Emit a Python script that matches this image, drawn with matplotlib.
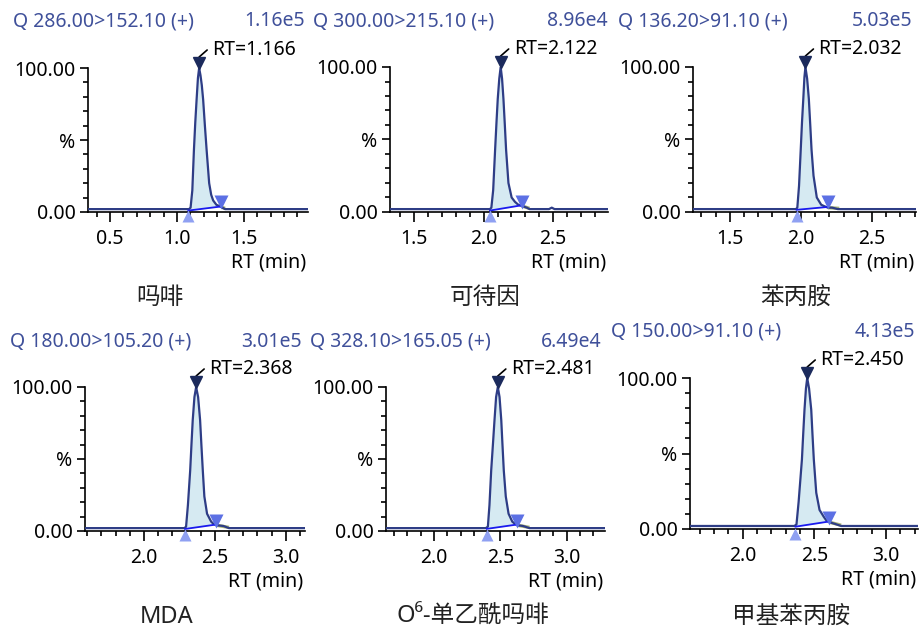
import matplotlib
matplotlib.use('Agg')
import matplotlib.pyplot as plt
from matplotlib.ticker import MultipleLocator, FixedLocator
from matplotlib.transforms import ScaledTranslation

plt.rcParams['font.family'] = ['Noto Sans', 'Noto Sans CJK SC', 'DejaVu Sans']

# ---------------- data ----------------
compounds = ['吗啡', '可待因', '苯丙胺', 'MDA', 'O⁶-单乙酰吗啡', '甲基苯丙胺']
transitions = ['Q 286.00>152.10 (+)', 'Q 300.00>215.10 (+)', 'Q 136.20>91.10 (+)',
               'Q 180.00>105.20 (+)', 'Q 328.10>165.05 (+)', 'Q 150.00>91.10 (+)']
max_intensity = ['1.16e5', '8.96e4', '5.03e5', '3.01e5', '6.49e4', '4.13e5']
rt_apex = [1.166, 2.122, 2.032, 2.368, 2.481, 2.450]
rt_start = [1.085, 2.045, 1.97, 2.29, 2.398, 2.368]
rt_end = [1.333, 2.275, 2.19, 2.51, 2.627, 2.605]
rt_tail = [1.36, 2.33, 2.27, 2.60, 2.72, 2.687]
x_min = [0.335, 1.325, 1.241, 1.584, 1.638, 1.632]
x_max = [1.98, 2.895, 2.81, 3.136, 3.289, 3.223]

trace1_rt = [0.335, 1.09, 1.102, 1.115, 1.127, 1.137, 1.147, 1.157, 1.166, 1.176, 1.186, 1.196,
             1.209, 1.222, 1.241, 1.256, 1.271, 1.295, 1.321, 1.34, 1.36, 1.98]
trace1_pct = [2, 2, 3, 15, 43, 62, 78, 93, 100, 95, 88, 78, 60, 43, 20, 12, 8, 5, 4, 3, 2, 2]
trace2_rt = [1.325, 2.045, 2.055, 2.068, 2.082, 2.092, 2.101, 2.112, 2.122, 2.132, 2.142, 2.152,
             2.161, 2.178, 2.201, 2.225, 2.249, 2.28, 2.31, 2.33, 2.47, 2.49, 2.51, 2.895]
trace2_pct = [2, 2, 3, 15, 43, 62, 78, 92, 100, 92, 78, 60, 43, 20, 10, 7, 5, 4, 3, 2, 2, 3, 2, 2]
trace3_rt = [1.241, 1.965, 1.975, 1.987, 1.999, 2.008, 2.017, 2.025, 2.032, 2.044, 2.056, 2.066,
             2.075, 2.089, 2.112, 2.143, 2.165, 2.19, 2.22, 2.26, 2.81]
trace3_pct = [2, 2, 3, 18, 43, 62, 78, 93, 100, 92, 78, 60, 43, 25, 10, 5, 4, 3, 3, 2, 2]
trace4_rt = [1.584, 2.285, 2.297, 2.31, 2.326, 2.335, 2.344, 2.356, 2.368, 2.382, 2.396, 2.405,
             2.415, 2.426, 2.445, 2.474, 2.49, 2.51, 2.56, 2.60, 3.136]
trace4_pct = [2, 2, 3, 18, 42, 60, 77, 93, 100, 93, 77, 60, 42, 24, 12, 6.5, 5, 4, 3.5, 2, 2]
trace5_rt = [1.638, 2.39, 2.406, 2.418, 2.431, 2.444, 2.456, 2.468, 2.481, 2.494, 2.507, 2.516,
             2.526, 2.541, 2.562, 2.59, 2.61, 2.627, 2.67, 2.72, 3.289]
trace5_pct = [2, 2, 3, 18, 42, 60, 77, 93, 100, 93, 77, 60, 42, 24, 12, 6.5, 5, 4, 3.5, 2, 2]
trace6_rt = [1.632, 2.36, 2.375, 2.39, 2.413, 2.422, 2.431, 2.441, 2.45, 2.463, 2.478, 2.487,
             2.496, 2.513, 2.536, 2.566, 2.585, 2.605, 2.64, 2.687, 3.223]
trace6_pct = [2, 2, 3, 18, 46, 63, 79, 93, 100, 93, 79, 62, 46, 24, 12.6, 8, 5.5, 4.5, 3.5, 2, 2]
traces_rt = [trace1_rt, trace2_rt, trace3_rt, trace4_rt, trace5_rt, trace6_rt]
traces_pct = [trace1_pct, trace2_pct, trace3_pct, trace4_pct, trace5_pct, trace6_pct]

# ---------------- layout (pixels) ----------------
W, H, DPI = 919, 628, 100
boxes = [(88, 68, 308, 212), (390, 67, 608, 212), (693, 67, 916, 212),
         (85, 387, 305, 531), (386, 387, 605, 531), (690, 378, 918, 529)]
title_pos = [(13, 305, 21), (313, 608, 21), (618, 912, 21),
             (10, 302, 342), (310, 602, 342), (611, 915, 332)]
name_pos = [(160, 298), (485, 298), (796, 298), (167, 617), (473, 617), (791, 617)]

NAVY = '#2e3d86'
APEX = '#1b2a5c'
FILL = '#d6eaf2'
BASE = '#1a1aee'
START_C = '#8fa0f2'
END_C = '#5c70e4'
OLIVE = '#aab476'
TBLUE = '#3f509a'
FS = 14

fig = plt.figure(figsize=(W / DPI, H / DPI), dpi=DPI)
fig.patch.set_facecolor('white')


def interp(x, xs, ys):
    for k in range(len(xs) - 1):
        if xs[k] <= x <= xs[k + 1]:
            t = (x - xs[k]) / (xs[k + 1] - xs[k])
            return ys[k] + t * (ys[k + 1] - ys[k])
    return ys[-1]


for i in range(6):
    l, t, r, b = boxes[i]
    ax = fig.add_axes([l / W, 1 - b / H, (r - l) / W, (b - t) / H])
    ax.set_xlim(x_min[i], x_max[i])
    ax.set_ylim(0, 100)
    for s in ['top', 'right']:
        ax.spines[s].set_visible(False)
    for s in ['left', 'bottom']:
        ax.spines[s].set_linewidth(1.2)
    ax.patch.set_alpha(0)

    xs, ys = traces_rt[i], traces_pct[i]
    s0, e0 = rt_start[i], rt_end[i]
    ys0 = interp(s0, xs, ys) - 1
    ye0 = interp(e0, xs, ys) + 0.5
    px = [s0] + [x for x in xs if s0 < x < e0] + [e0]
    py = [interp(x, xs, ys) for x in px]
    pb = [ys0 + (x - s0) / (e0 - s0) * (ye0 - ys0) for x in px]
    ax.fill_between(px, pb, py, color=FILL, lw=0, zorder=1)
    ax.plot([e0, rt_tail[i]], [interp(e0, xs, ys), 2.5], color=OLIVE, lw=2.4, zorder=2,
            solid_capstyle='butt')
    ax.plot(xs, ys, color=NAVY, lw=1.6, zorder=3)
    ax.plot([s0, e0], [ys0, ye0], color=BASE, lw=1.3, zorder=4)

    # markers
    ax.plot([rt_apex[i]], [103.5], marker='v', ms=8.5, color=APEX, clip_on=False, zorder=6)
    ax.plot([s0], [-3], marker='^', ms=9, color=START_C, clip_on=False, zorder=6, mec='none')
    ax.plot([e0], [7], marker='v', ms=9.5, color=END_C, clip_on=False, zorder=6, mec='none')

    def off(dx, dy):
        return ax.transData + ScaledTranslation(dx / DPI, dy / DPI, fig.dpi_scale_trans)
    ax.annotate('', xy=(rt_apex[i], 100), xycoords=off(0, 11),
                xytext=(rt_apex[i], 100), textcoords=off(8, 18),
                arrowprops=dict(arrowstyle='-', shrinkA=0, shrinkB=0, lw=1.2, color='black'))
    ax.annotate('RT=%.3f' % rt_apex[i], xy=(rt_apex[i], 100), xycoords=off(13, 18),
                ha='left', va='center', fontsize=FS, color='black', annotation_clip=False)

    ax.yaxis.set_major_locator(FixedLocator([0, 50, 100]))
    ax.set_yticklabels(['0.00', '%', '100.00'])
    ax.yaxis.set_minor_locator(MultipleLocator(10))
    ax.xaxis.set_major_locator(MultipleLocator(0.5))
    ax.xaxis.set_minor_locator(MultipleLocator(0.1))
    ax.xaxis.set_major_formatter(plt.FuncFormatter(lambda v, p: '%.1f' % v))
    ax.tick_params(which='major', direction='out', length=6, width=1.2, labelsize=FS, pad=3)
    ax.tick_params(which='minor', direction='out', length=3.5, width=1.2)
    ax.tick_params(axis='x', which='major', length=7, pad=5)

    ax.annotate('RT (min)', xy=(1, 0), xycoords='axes fraction', xytext=(-2, -51),
                textcoords='offset pixels', ha='right', va='center', fontsize=FS)

    tl, tr, ty = title_pos[i]
    fig.text(tl / W, 1 - ty / H, transitions[i], ha='left', va='center', fontsize=FS, color=TBLUE)
    fig.text(tr / W, 1 - ty / H, max_intensity[i], ha='right', va='center', fontsize=FS, color=TBLUE)
    nx, ny = name_pos[i]
    fig.text(nx / W, 1 - ny / H, compounds[i], ha='center', va='center', fontsize=17,
             color='#222222')

fig.savefig('out.png', dpi=DPI)
